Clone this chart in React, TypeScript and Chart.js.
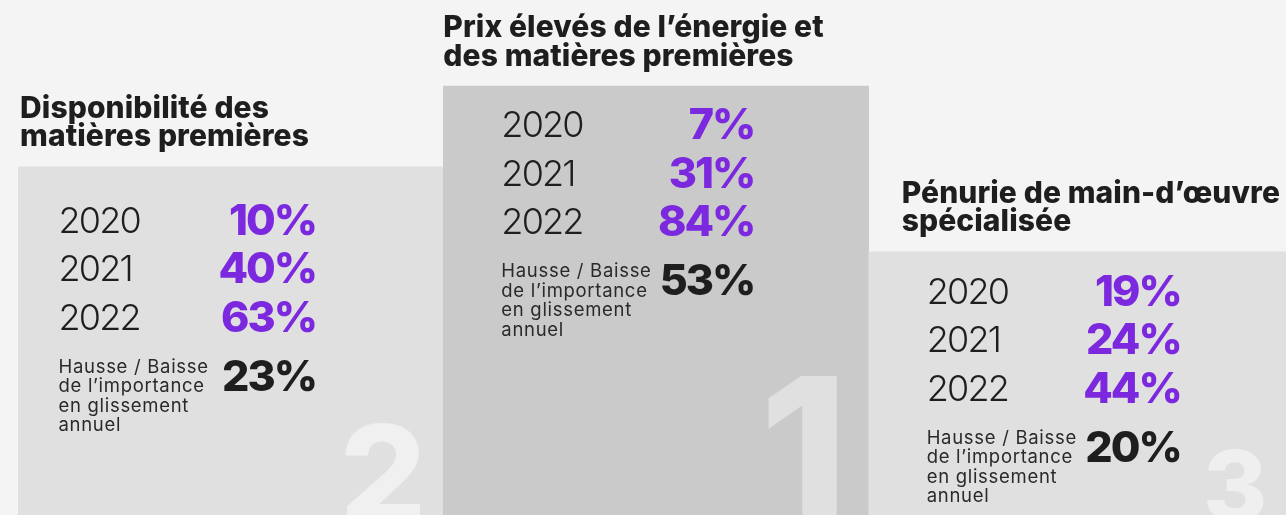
import React, { useEffect, useRef } from "react";
import { Chart, registerables } from "chart.js";

Chart.register(...registerables);

// ---- Data ----
const categories = [
  "Disponibilité des matières premières",
  "Prix élevés de l’énergie et des matières premières",
  "Pénurie de main-d’œuvre spécialisée",
];
const titleLines = [
  ["Disponibilité des", "matières premières"],
  ["Prix élevés de l’énergie et", "des matières premières"],
  ["Pénurie de main-d’œuvre", "spécialisée"],
];
const years = ["2020", "2021", "2022"];
const disponibilite = [10, 40, 63];
const prixEnergie = [7, 31, 84];
const penurie = [19, 24, 44];
const yoyChange = [23, 53, 20];
const podiumRanks = ["2", "1", "3"];
const podiumHeight = [67.6, 83.3, 51.1];
const yoyLabel = ["Hausse / Baisse", "de l’importance", "en glissement", "annuel"];

const seriesByPodium = [disponibilite, prixEnergie, penurie];

// ---- Styles / layout ----
const PAGE_BG = "#f4f4f4";
const BAR_COLORS = ["#dfe0df", "#c9cac9", "#dfe0df"];
const DIGIT_COLORS = ["#f0f0f0", "#dfe0df", "#efefef"];
const PURPLE = "#7b28de";
const DARK = "#1e1e1e";
const FONT = "Inter, 'Noto Sans', sans-serif";

const TITLE_DX = [2, 0, 33];
const BLOCK_DX = [40.5, 58, 58];
const PCT_DX = [298, 311, 312];
const YEAR1_DY = [66, 51, 52];
const DIGIT_SIZE = [136, 200, 98];
const DIGIT_RIGHT = [22.6, 32, 30];
const DIGIT_TOP = [256, 290, 197.6];

const podiumTextPlugin = {
  id: "podiumText",
  afterDatasetsDraw(chart: any) {
    const ctx: CanvasRenderingContext2D = chart.ctx;
    const meta = chart.getDatasetMeta(0);
    meta.data.forEach((bar: any, i: number) => {
      const { x, y, width } = bar.getProps(["x", "y", "width"], true);
      const left = x - width / 2;
      const right = x + width / 2;
      const top = y;
      ctx.save();
      ctx.textAlign = "left";
      ctx.textBaseline = "alphabetic";

      // big rank digit
      ctx.font = `800 ${DIGIT_SIZE[i]}px ${FONT}`;
      ctx.fillStyle = DIGIT_COLORS[i];
      (ctx as any).letterSpacing = "0px";
      const dm = ctx.measureText(podiumRanks[i]);
      ctx.fillText(
        podiumRanks[i],
        right - DIGIT_RIGHT[i] - dm.actualBoundingBoxRight,
        top + DIGIT_TOP[i] + dm.actualBoundingBoxAscent
      );

      // title
      ctx.fillStyle = DARK;
      ctx.font = `800 30px ${FONT}`;
      (ctx as any).letterSpacing = "0.1px";
      const line2 = top - 20.5;
      const lines = titleLines[i];
      lines.forEach((ln, k) => {
        ctx.fillText(ln, left + TITLE_DX[i], line2 - (lines.length - 1 - k) * 28.5);
      });

      const bx = left + BLOCK_DX[i];
      const px = left + PCT_DX[i];
      const y1 = top + YEAR1_DY[i];

      // years + values
      const vals = seriesByPodium[i];
      years.forEach((yr, k) => {
        const by = y1 + k * 48.5;
        ctx.textAlign = "left";
        ctx.font = `300 36px ${FONT}`;
        (ctx as any).letterSpacing = "-1.8px";
        ctx.fillStyle = DARK;
        ctx.fillText(yr, bx, by);
        ctx.textAlign = "right";
        ctx.font = `800 43px ${FONT}`;
        (ctx as any).letterSpacing = "-2px";
        ctx.fillStyle = PURPLE;
        ctx.fillText(`${vals[k]}%`, px, by + 2);
      });

      // yoy label
      ctx.textAlign = "left";
      ctx.font = `400 18.5px ${FONT}`;
      (ctx as any).letterSpacing = "0.7px";
      ctx.fillStyle = "#2a2a2a";
      yoyLabel.forEach((t, k) => {
        ctx.fillText(t, bx, y1 + 140 + k * 19.5);
      });

      ctx.textAlign = "right";
      ctx.font = `800 43px ${FONT}`;
      (ctx as any).letterSpacing = "-2px";
      ctx.fillStyle = DARK;
      ctx.fillText(`${yoyChange[i]}%`, px, y1 + 158);

      ctx.restore();
    });
  },
};

export default function App() {
  const canvasRef = useRef<HTMLCanvasElement | null>(null);

  useEffect(() => {
    if (!canvasRef.current) return;
    const chart = new Chart(canvasRef.current, {
      type: "bar",
      data: {
        labels: categories,
        datasets: [
          {
            data: podiumHeight,
            backgroundColor: BAR_COLORS,
            borderWidth: 0,
            barPercentage: 1,
            categoryPercentage: 1,
          },
        ],
      },
      options: {
        animation: false,
        responsive: true,
        maintainAspectRatio: false,
        layout: { padding: { left: 18, right: 2, top: 0, bottom: 0 } },
        plugins: { legend: { display: false }, tooltip: { enabled: false } },
        scales: {
          x: { display: false },
          y: { display: false, min: 0, max: 100 },
        },
      },
      plugins: [podiumTextPlugin],
    });
    return () => chart.destroy();
  }, []);

  return (
    <div
      style={{
        position: "fixed",
        left: 0,
        top: 0,
        width: 1286,
        height: 515,
        overflow: "hidden",
        background: PAGE_BG,
      }}
    >
      <div style={{ position: "relative", width: 1296, height: 515 }}>
        <canvas ref={canvasRef} />
      </div>
    </div>
  );
}
